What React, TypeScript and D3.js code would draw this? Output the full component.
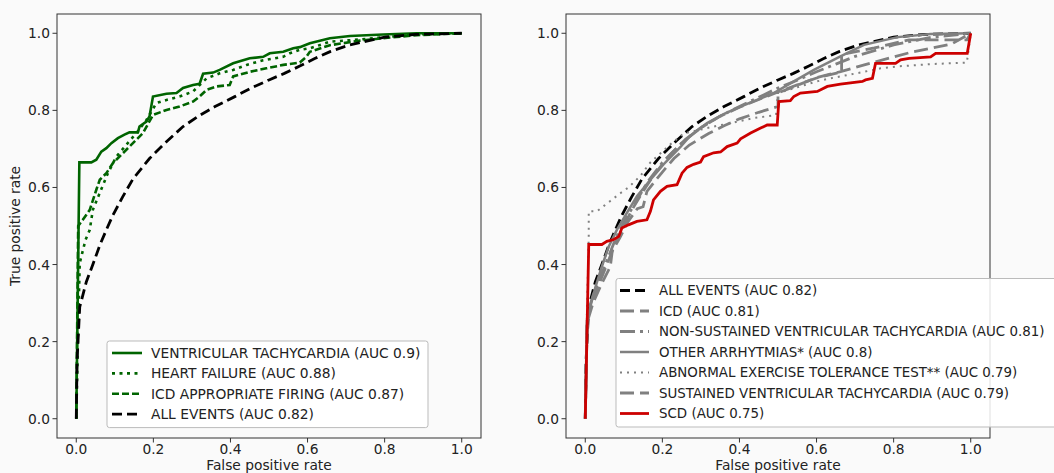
import React from "react";
import * as d3 from "d3";

type Pt = [number, number];

// ---- data: ROC curves, [false positive rate, true positive rate]
const tickValues = [0, 0.2, 0.4, 0.6, 0.8, 1.0];
const xTitle = "False positive rate";
const yTitle = "True positive rate";

const vtCurve: Pt[] = [
  [0, 0], [0.008, 0.665], [0.039, 0.665], [0.052, 0.672], [0.065, 0.693], [0.078, 0.702],
  [0.091, 0.715], [0.108, 0.728], [0.125, 0.737], [0.138, 0.743], [0.16, 0.743], [0.164, 0.758],
  [0.182, 0.771], [0.19, 0.784], [0.199, 0.836], [0.234, 0.843], [0.26, 0.845], [0.277, 0.858],
  [0.303, 0.866], [0.32, 0.869], [0.329, 0.895], [0.355, 0.898], [0.372, 0.905], [0.407, 0.922],
  [0.45, 0.935], [0.485, 0.939], [0.502, 0.948], [0.537, 0.952], [0.563, 0.961], [0.58, 0.964],
  [0.606, 0.974], [0.658, 0.987], [0.71, 0.993], [0.796, 0.997], [0.883, 1.0], [1, 1],
];

const heartFailureCurve: Pt[] = [
  [0, 0], [0.004, 0.2], [0.009, 0.404], [0.024, 0.464], [0.035, 0.49], [0.043, 0.542],
  [0.061, 0.586], [0.082, 0.637], [0.104, 0.68], [0.13, 0.711], [0.156, 0.741], [0.182, 0.775],
  [0.208, 0.819], [0.234, 0.827], [0.268, 0.836], [0.303, 0.849], [0.338, 0.883], [0.372, 0.896],
  [0.407, 0.905], [0.442, 0.918], [0.485, 0.93], [0.537, 0.939], [0.554, 0.948], [0.58, 0.957],
  [0.606, 0.961], [0.658, 0.978], [0.736, 0.984], [0.814, 0.991], [0.883, 0.997], [1, 1],
];

const icdFiringCurve: Pt[] = [
  [0, 0], [0.005, 0.5], [0.017, 0.516], [0.035, 0.542], [0.052, 0.594], [0.061, 0.62],
  [0.078, 0.637], [0.095, 0.663], [0.121, 0.689], [0.147, 0.715], [0.173, 0.741], [0.199, 0.788],
  [0.234, 0.801], [0.268, 0.81], [0.303, 0.823], [0.32, 0.836], [0.338, 0.853], [0.364, 0.862],
  [0.398, 0.866], [0.407, 0.888], [0.45, 0.9], [0.493, 0.909], [0.537, 0.918], [0.58, 0.924],
  [0.597, 0.939], [0.606, 0.952], [0.658, 0.969], [0.736, 0.981], [0.814, 0.989], [0.883, 0.995], [1, 1],
];

const allEventsCurve: Pt[] = [
  [0, 0], [0.002, 0.15], [0.009, 0.29], [0.026, 0.355], [0.043, 0.4], [0.061, 0.45],
  [0.078, 0.49], [0.095, 0.528], [0.12, 0.575], [0.147, 0.622], [0.19, 0.675], [0.23, 0.715],
  [0.277, 0.758], [0.32, 0.787], [0.36, 0.81], [0.41, 0.835], [0.45, 0.856], [0.5, 0.879],
  [0.54, 0.896], [0.58, 0.915], [0.62, 0.935], [0.66, 0.953], [0.71, 0.97], [0.8, 0.99],
  [0.88, 0.997], [1, 1],
];

const icdCurve: Pt[] = [
  [0, 0], [0.005, 0.26], [0.02, 0.31], [0.04, 0.36], [0.06, 0.41], [0.08, 0.46], [0.1, 0.5],
  [0.12, 0.54], [0.15, 0.59], [0.18, 0.635], [0.22, 0.685], [0.26, 0.725], [0.3, 0.755],
  [0.35, 0.785], [0.4, 0.808], [0.45, 0.828], [0.5, 0.848], [0.55, 0.866], [0.6, 0.884], [0.665, 0.9],
  [0.665, 0.945], [0.75, 0.962], [0.84, 0.983], [0.99, 0.983], [1, 1],
];

const nsvtCurve: Pt[] = [
  [0, 0], [0.005, 0.27], [0.02, 0.32], [0.04, 0.37], [0.06, 0.42], [0.08, 0.47], [0.1, 0.51],
  [0.13, 0.56], [0.16, 0.612], [0.2, 0.665], [0.25, 0.715], [0.3, 0.755], [0.35, 0.785], [0.4, 0.81],
  [0.45, 0.834], [0.5, 0.858], [0.55, 0.878], [0.6, 0.9], [0.65, 0.92], [0.7, 0.94], [0.8, 0.97],
  [0.9, 0.99], [1, 1],
];

const otherArrhythmiasCurve: Pt[] = [
  [0, 0], [0.005, 0.25], [0.013, 0.29], [0.026, 0.34], [0.043, 0.395], [0.061, 0.447],
  [0.082, 0.49], [0.108, 0.534], [0.134, 0.577], [0.169, 0.62], [0.203, 0.66], [0.247, 0.705],
  [0.273, 0.735], [0.316, 0.767], [0.359, 0.79], [0.403, 0.81], [0.446, 0.827], [0.489, 0.845],
  [0.532, 0.87], [0.593, 0.905], [0.662, 0.94], [0.723, 0.97], [0.81, 0.99], [0.896, 0.998], [1, 1],
];

const exerciseTestCurve: Pt[] = [
  [0, 0], [0.005, 0.3], [0.009, 0.473], [0.009, 0.538], [0.03, 0.538], [0.039, 0.545],
  [0.065, 0.565], [0.091, 0.585], [0.112, 0.6], [0.143, 0.63], [0.169, 0.665], [0.221, 0.712],
  [0.255, 0.74], [0.299, 0.75], [0.333, 0.758], [0.377, 0.767], [0.437, 0.78], [0.495, 0.788],
  [0.5, 0.845], [0.55, 0.86], [0.6, 0.875], [0.636, 0.883], [0.723, 0.9], [0.766, 0.909],
  [0.81, 0.914], [0.896, 0.92], [0.99, 0.924], [1, 1],
];

const sustainedVtCurve: Pt[] = [
  [0, 0], [0.005, 0.25], [0.02, 0.3], [0.04, 0.345], [0.06, 0.385], [0.065, 0.395], [0.07, 0.435],
  [0.09, 0.47], [0.11, 0.51], [0.135, 0.545], [0.15, 0.55], [0.16, 0.59], [0.2, 0.64],
  [0.23, 0.675], [0.27, 0.71], [0.32, 0.74], [0.36, 0.76], [0.4, 0.778], [0.45, 0.795], [0.5, 0.81],
  [0.5, 0.845], [0.55, 0.865], [0.6, 0.885], [0.66, 0.9], [0.75, 0.925], [0.85, 0.952], [0.95, 0.972], [1, 1],
];

const scdCurve: Pt[] = [
  [0, 0], [0.009, 0.452], [0.043, 0.452], [0.056, 0.46], [0.074, 0.465], [0.087, 0.473],
  [0.095, 0.495], [0.112, 0.503], [0.134, 0.512], [0.16, 0.516], [0.169, 0.538], [0.177, 0.568],
  [0.195, 0.59], [0.212, 0.603], [0.238, 0.607], [0.251, 0.637], [0.264, 0.652], [0.281, 0.66],
  [0.299, 0.666], [0.307, 0.68], [0.333, 0.69], [0.351, 0.692], [0.368, 0.706], [0.394, 0.715],
  [0.403, 0.726], [0.429, 0.741], [0.455, 0.754], [0.472, 0.762], [0.498, 0.762], [0.502, 0.823],
  [0.532, 0.825], [0.541, 0.836], [0.558, 0.845], [0.602, 0.849], [0.628, 0.862], [0.662, 0.868],
  [0.719, 0.875], [0.727, 0.879], [0.745, 0.883], [0.753, 0.922], [0.805, 0.922], [0.818, 0.931],
  [0.84, 0.935], [0.896, 0.939], [0.909, 0.948], [0.991, 0.948], [1, 1],
];

const leftLabels = [
  "VENTRICULAR TACHYCARDIA (AUC 0.9)",
  "HEART FAILURE (AUC 0.88)",
  "ICD APPROPRIATE FIRING (AUC 0.87)",
  "ALL EVENTS (AUC 0.82)",
];

const rightLabels = [
  "ALL EVENTS (AUC 0.82)",
  "ICD (AUC 0.81)",
  "NON-SUSTAINED VENTRICULAR TACHYCARDIA (AUC 0.81)",
  "OTHER ARRHYTMIAS* (AUC 0.8)",
  "ABNORMAL EXERCISE TOLERANCE TEST** (AUC 0.79)",
  "SUSTAINED VENTRICULAR TACHYCARDIA (AUC 0.79)",
  "SCD (AUC 0.75)",
];

// ---- styling
const FONT = "'DejaVu Sans', sans-serif";
const FS = 13.8;
const GREEN = "#006400";
const GREY = "#808080";
const RED = "#cc0000";

interface Style { color: string; width: number; dash?: string }

const leftSeries: { data: Pt[]; style: Style }[] = [
  { data: vtCurve, style: { color: GREEN, width: 2.6 } },
  { data: heartFailureCurve, style: { color: GREEN, width: 2.6, dash: "3,4.5" } },
  { data: icdFiringCurve, style: { color: GREEN, width: 2.6, dash: "7,3" } },
  { data: allEventsCurve, style: { color: "#000", width: 2.8, dash: "10,5" } },
];

const rightSeries: { data: Pt[]; style: Style }[] = [
  { data: allEventsCurve, style: { color: "#000", width: 2.8, dash: "10,5" } },
  { data: icdCurve, style: { color: GREY, width: 2.8, dash: "14,6" } },
  { data: nsvtCurve, style: { color: GREY, width: 2.8, dash: "15,5,3,5" } },
  { data: otherArrhythmiasCurve, style: { color: GREY, width: 2.5 } },
  { data: exerciseTestCurve, style: { color: GREY, width: 2, dash: "2,5" } },
  { data: sustainedVtCurve, style: { color: GREY, width: 2.8, dash: "14,6" } },
  { data: scdCurve, style: { color: RED, width: 2.8 } },
];

interface PanelProps {
  id: string;
  x0: number; x1: number; y0: number; y1: number;
  series: { data: Pt[]; style: Style }[];
  labels: string[];
  legend: { x: number; y: number; w: number; rowH: number; hx0: number; hx1: number; tx: number; fs: number };
  showYTitle: boolean;
}

function Panel({ id, x0, x1, y0, y1, series, labels, legend, showYTitle }: PanelProps) {
  const x = d3.scaleLinear().domain([-0.05, 1.05]).range([x0, x1]);
  const y = d3.scaleLinear().domain([-0.05, 1.05]).range([y1, y0]);
  const line = d3.line<Pt>().x(d => x(d[0])).y(d => y(d[1]));
  const fmt = d3.format(".1f");
  const legendH = labels.length * legend.rowH + 5;

  return (
    <g>
      <defs>
        <clipPath id={id}>
          <rect x={x0} y={y0} width={x1 - x0} height={y1 - y0} />
        </clipPath>
      </defs>
      <g clipPath={`url(#${id})`}>
        {series.map((s, i) => (
          <path key={i} d={line(s.data) || ""} fill="none" stroke={s.style.color}
            strokeWidth={s.style.width} strokeDasharray={s.style.dash} />
        ))}
      </g>
      <rect x={x0} y={y0} width={x1 - x0} height={y1 - y0} fill="none" stroke="#333" strokeWidth={1} />
      {tickValues.map(t => (
        <g key={"x" + t}>
          <line x1={x(t)} x2={x(t)} y1={y1} y2={y1 + 4.5} stroke="#333" />
          <text x={x(t)} y={y1 + 16} textAnchor="middle" fontSize={FS} fontFamily={FONT} fill="#222">{fmt(t)}</text>
        </g>
      ))}
      {tickValues.map(t => (
        <g key={"y" + t}>
          <line x1={x0 - 4.5} x2={x0} y1={y(t)} y2={y(t)} stroke="#333" />
          <text x={x0 - 7} y={y(t)} dy="0.36em" textAnchor="end" fontSize={FS} fontFamily={FONT} fill="#222">{fmt(t)}</text>
        </g>
      ))}
      <text x={(x0 + x1) / 2} y={470} textAnchor="middle" fontSize={FS} fontFamily={FONT} fill="#222">{xTitle}</text>
      {showYTitle && (
        <text transform={`translate(20,${(y0 + y1) / 2}) rotate(-90)`} textAnchor="middle" fontSize={FS} fontFamily={FONT} fill="#222">{yTitle}</text>
      )}
      <rect x={legend.x} y={legend.y} width={legend.w} height={legendH} rx={2.5} fill="#fff" fillOpacity={0.85} stroke="#bbb" />
      {labels.map((lab, i) => {
        const cy = legend.y + 12 + i * legend.rowH;
        const st = series[i].style;
        return (
          <g key={lab}>
            <line x1={legend.hx0} x2={legend.hx1} y1={cy} y2={cy} stroke={st.color} strokeWidth={st.width} strokeDasharray={st.dash} />
            <text x={legend.tx} y={cy} dy="0.36em" fontSize={legend.fs} fontFamily={FONT} fill="#222">{lab}</text>
          </g>
        );
      })}
    </g>
  );
}

export default function App() {
  return (
    <svg width={1054} height={473} style={{ position: "absolute", left: 0, top: 0, background: "#fafafa" }}>
      <Panel id="clipL" x0={57} x1={481} y0={14} y1={438} series={leftSeries} labels={leftLabels}
        legend={{ x: 107, y: 341, w: 321, rowH: 20.4, hx0: 112, hx1: 142, tx: 151, fs: FS }} showYTitle={true} />
      <Panel id="clipR" x0={566} x1={990} y0={14} y1={438} series={rightSeries} labels={rightLabels}
        legend={{ x: 616, y: 278.5, w: 460, rowH: 20.5, hx0: 620, hx1: 649, tx: 659, fs: 13.4 }} showYTitle={false} />
    </svg>
  );
}
